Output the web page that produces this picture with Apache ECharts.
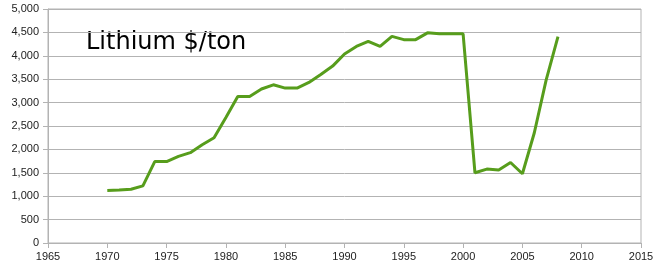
<!DOCTYPE html>
<html><head><meta charset="utf-8">
<script src="https://cdn.jsdelivr.net/npm/echarts@6/dist/echarts.min.js"></script>
<style>html,body{margin:0;padding:0;background:#fff}#c{width:658px;height:269px}</style>
</head><body><div id="c"></div>
<script>
var years = [1970,1971,1972,1973,1974,1975,1976,1977,1978,1979,1980,1981,1982,1983,1984,1985,1986,1987,1988,1989,1990,1991,1992,1993,1994,1995,1996,1997,1998,1999,2000,2001,2002,2003,2004,2005,2006,2007,2008];
var prices = [1120,1130,1150,1220,1740,1740,1850,1930,2100,2250,2680,3130,3130,3290,3380,3310,3310,3430,3600,3780,4040,4200,4310,4200,4415,4345,4345,4490,4470,4470,4470,1500,1580,1560,1720,1480,2350,3480,4410];
var xTicks = {min:1965, max:2015, step:5};
var yTicks = {min:0, max:5000, step:500};
var title = 'Lithium $/ton';

var chart = echarts.init(document.getElementById('c'), null, {renderer:'canvas'});
var labelStyle = {color:'#222', fontFamily:'Liberation Sans, Arial, sans-serif', fontSize:11};
chart.setOption({
  animation:false,
  grid:{left:48, right:17, top:9, bottom:26, show:true, borderColor:'#b3b3b3', borderWidth:1},
  graphic:[{type:'text', left:86, top:31, style:{text:title, fontFamily:'DejaVu Sans', fontSize:24, fill:'#000'}}],
  xAxis:{type:'value', min:xTicks.min, max:xTicks.max, interval:xTicks.step,
    axisLine:{show:true, lineStyle:{color:'#b3b3b3'}},
    axisTick:{show:true, length:5, lineStyle:{color:'#b3b3b3'}},
    splitLine:{show:false},
    axisLabel:Object.assign({margin:8, formatter:function(v){return String(v);}}, labelStyle)},
  yAxis:{type:'value', min:yTicks.min, max:yTicks.max, interval:yTicks.step,
    axisLine:{show:true, lineStyle:{color:'#b3b3b3'}},
    axisTick:{show:true, length:5, lineStyle:{color:'#b3b3b3'}},
    splitLine:{show:true, lineStyle:{color:'#b3b3b3'}},
    axisLabel:Object.assign({margin:9, formatter:function(v){return v.toLocaleString('en-US');}}, labelStyle)},
  series:[{type:'line', data:years.map(function(y,i){return [y, prices[i]];}),
    showSymbol:false, lineStyle:{color:'#579d1c', width:3}, itemStyle:{color:'#579d1c'}}]
});
</script></body></html>
